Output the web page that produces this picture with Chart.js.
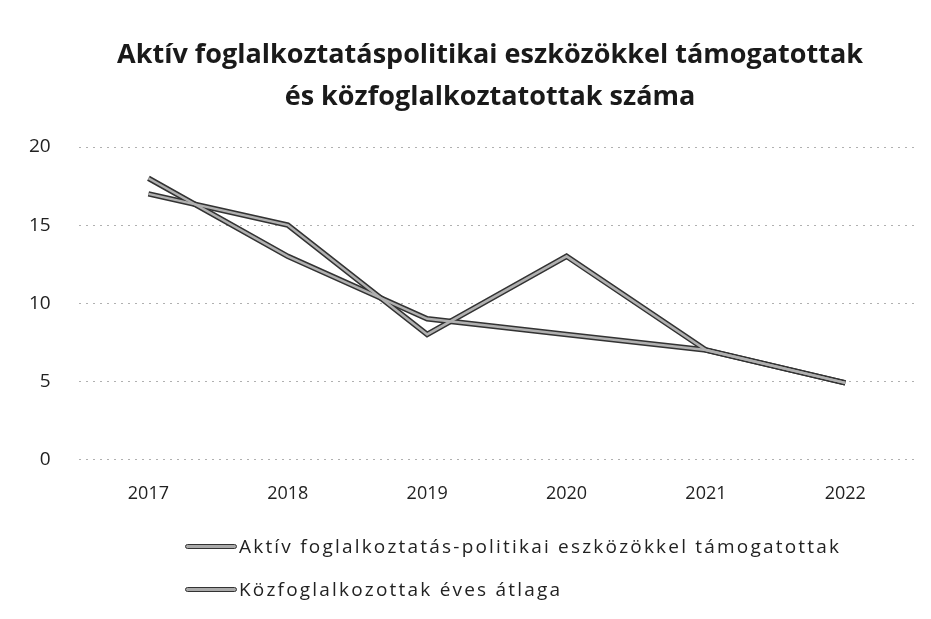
<!DOCTYPE html>
<html lang="hu">
<head>
<meta charset="utf-8">
<script src="https://cdn.jsdelivr.net/npm/chart.js@4/dist/chart.umd.min.js"></script>
<style>
  html, body { margin: 0; padding: 0; background: #fff; }
  #wrap { position: relative; width: 931px; height: 619px; }
  #title { position: absolute; left: 0; width: 980px; top: 32px; text-align: center; font-family: "Open Sans", sans-serif; font-weight: bold; font-size: 27px; line-height: 42px; color: #1a1a1a; }
  #legend { position: absolute; left: 185px; top: 534px; font-family: "Open Sans", sans-serif; font-size: 19px; letter-spacing: 2.2px; color: #222; }
  .item { display: flex; align-items: center; height: 24px; margin-bottom: 19px; }
  .swatch { width: 50px; height: 3px; background: #aaa; border: 1.5px solid #333; border-radius: 3px; margin-right: 2px; }
</style>
</head>
<body>
<div id="wrap">
  <canvas id="chart" width="931" height="619"></canvas>
  <div id="title">Aktív foglalkoztatáspolitikai eszközökkel támogatottak<br>és közfoglalkoztatottak száma</div>
  <div id="legend"></div>
</div>
<script>
const years = ["2017", "2018", "2019", "2020", "2021", "2022"];
const aktiv = [17, 15, 8, 13, 7, 4.9];
const kozfog = [18, 13, 9, 8, 7, 4.9];
const seriesNames = [
  "Aktív foglalkoztatás-politikai eszközökkel támogatottak",
  "Közfoglalkozottak éves átlaga"
];
const yTicks = [0, 5, 10, 15, 20];

// minden vonal két rétegből: sötét körvonal + szürke belső
const outline = (data) => ({ data, borderColor: "#333", borderWidth: 5.5, pointRadius: 0, tension: 0, fill: false, order: 2 });
const inner = (data, label) => ({ label, data, borderColor: "#b0b0b0", borderWidth: 2.5, pointRadius: 0, tension: 0, fill: false, order: 1 });

new Chart(document.getElementById("chart").getContext("2d"), {
  type: "line",
  data: {
    labels: years,
    datasets: [
      outline(aktiv),
      inner(aktiv, seriesNames[0]),
      outline(kozfog),
      inner(kozfog, seriesNames[1])
    ]
  },
  options: {
    responsive: false,
    animation: false,
    layout: { padding: { left: 1, right: 16, top: 147, bottom: 98 } },
    plugins: {
      legend: { display: false },
      tooltip: { enabled: false },
      title: { display: false }
    },
    scales: {
      x: {
        offset: true,
        grid: { display: false },
        border: { display: false },
        ticks: { color: "#222", font: { family: "Open Sans", size: 18 }, padding: 16 }
      },
      y: {
        min: 0,
        max: 20,
        afterBuildTicks: (axis) => { axis.ticks = yTicks.map(v => ({ value: v })); },
        border: { display: false, dash: [2, 5] },
        grid: { color: "#b0b0b0", lineWidth: 1, drawTicks: false },
        ticks: { color: "#222", font: { family: "Open Sans", size: 19 }, padding: 28 }
      }
    }
  }
});

const legend = document.getElementById("legend");
seriesNames.forEach(name => {
  const row = document.createElement("div");
  row.className = "item";
  row.innerHTML = `<span class="swatch"></span><span>${name}</span>`;
  legend.appendChild(row);
});
</script>
</body>
</html>
